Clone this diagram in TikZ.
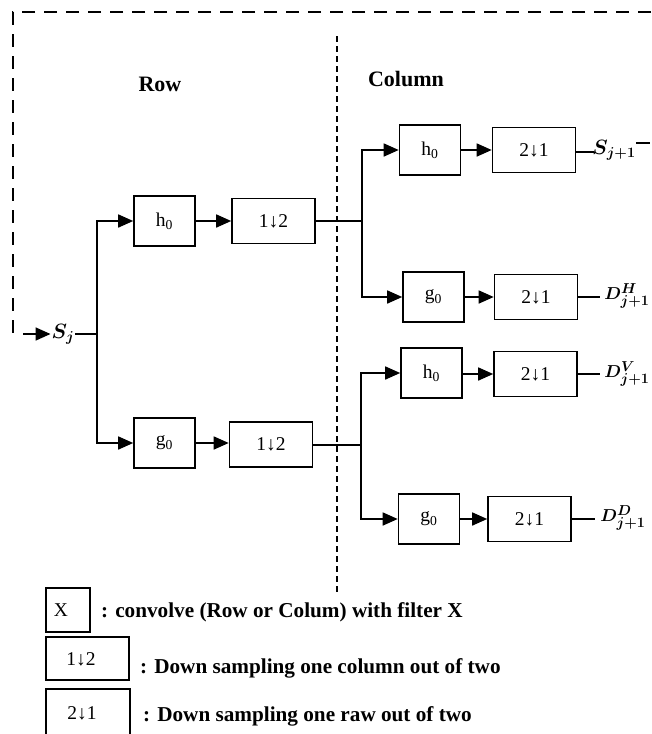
\documentclass[tikz,border=0pt]{standalone}
\usepackage{fontspec}
\setmainfont{Liberation Serif}
\usepackage{amsmath,bm}
\usetikzlibrary{arrows.meta}

\begin{document}
\begin{tikzpicture}[x=1pt,y=-1pt,
  wire/.style={line width=1.6pt},
  arr/.style={wire,-{Triangle[length=15pt,width=13pt]}},
  blk/.style={draw,line width=1.6pt,inner sep=0pt,font=\fontsize{19.5}{22}\selectfont},
  filt/.style={blk,minimum width=61pt,minimum height=50pt},
  dsmp/.style={blk,minimum width=83pt,minimum height=45pt},
  sig/.style={inner sep=1pt,font=\fontsize{19}{21}\selectfont},
  title/.style={font=\fontsize{22}{25}\selectfont\bfseries},
  legtext/.style={anchor=west,inner sep=0pt,font=\fontsize{21.2}{24}\selectfont\bfseries},
  fb/.style={line width=1.6pt,dash pattern=on 13pt off 9pt},
  sep/.style={line width=1.6pt,dash pattern=on 6pt off 4pt}]

\clip (0,0) rectangle (651,734);

% titles
\node[title] (trow) at (160,84) {Row};
\node[title] (tcol) at (406,79) {Column};

% row / column separator
\coordinate (sepT) at (337,36);
\coordinate (sepB) at (337,592);
\draw[sep] (sepT) -- (sepB);

% input
\node[sig,font=\fontsize{22}{24}\selectfont] (Sj) at (63,334) {$\bm{S_j}$};
\coordinate (fbT) at (651,12);
\coordinate (fbC) at (13,12);
\coordinate (fbB) at (13,333);
\coordinate (inA) at (23,334);
\draw[fb] (fbT) -- (fbC) -- (fbB);
\draw[arr] (inA) -- (Sj.west);
\coordinate (sp) at (97,334);
\draw[wire] (Sj.east) -- (sp);

% row stage
\node[filt] (rh) at (164.5,221) {h\textsubscript{0}};
\node[dsmp] (rd1) at (273.5,221) {1↓2};
\node[filt] (rg) at (164.5,443) {g\textsubscript{0}};
\node[dsmp] (rd2) at (271,444.5) {1↓2};
\draw[arr] (sp) |- (rh);
\draw[arr] (sp) |- (rg);
\draw[arr] (rh) -- (rd1);
\draw[arr] (rg.east |- 0,443) -- (rd2.west |- 0,443);

% column stage, upper branch
\coordinate (s1) at (362,221);
\draw[wire] (rd1.east) -- (s1);
\node[filt] (ch1) at (430,150) {h\textsubscript{0}};
\node[dsmp] (cd1) at (534,150) {2↓1};
\node[filt] (cg1) at (433.5,297) {g\textsubscript{0}};
\node[dsmp] (cd2) at (536,297) {2↓1};
\draw[arr] (s1) |- (ch1);
\draw[arr] (s1) |- (cg1);
\draw[arr] (ch1) -- (cd1);
\draw[arr] (cg1) -- (cd2);

% column stage, lower branch
\coordinate (s2) at (361,445);
\draw[wire] (rd2.east |- s2) -- (s2);
\node[filt] (ch2) at (431.5,373) {h\textsubscript{0}};
\node[dsmp] (cd3) at (535.5,374) {2↓1};
\node[filt] (cg2) at (429,519) {g\textsubscript{0}};
\node[dsmp] (cd4) at (529.5,519) {2↓1};
\draw[arr] (s2) |- (ch2);
\draw[arr] (s2) |- (cg2);
\draw[arr] (ch2.east |- cd3) -- (cd3);
\draw[arr] (cg2) -- (cd4);

% outputs
\node[sig,font=\fontsize{20}{22}\selectfont] (o1) at (614,150) {$\bm{S_{j+1}}$};
\node[sig] (o2) at (627,296) {$\bm{D^{H}_{j+1}}$};
\node[sig] (o3) at (627,374) {$\bm{D^{V}_{j+1}}$};
\node[sig] (o4) at (623,518) {$\bm{D^{D}_{j+1}}$};
\coordinate (o1a) at (594,152);
\coordinate (o2a) at (600,297);
\coordinate (o3a) at (600,374);
\coordinate (o4a) at (595,519);
\draw[wire] (cd1.east |- o1a) -- (o1a);
\draw[wire] (cd2.east |- o2a) -- (o2a);
\draw[wire] (cd3.east) -- (o3a);
\draw[wire] (cd4.east) -- (o4a);
\coordinate (o1b) at (636,143);
\coordinate (o1c) at (650,143);
\draw[wire] (o1b) -- (o1c);

% legend
\node[blk,minimum width=44pt,minimum height=44pt] (lx) at (68,610) {};
\node[font=\fontsize{19.5}{22}\selectfont,inner sep=0pt] (lxt) at (61,610) {X};
\node[legtext] (l1) at (101,612) {: convolve (Row or Colum) with filter X};
\node[blk,minimum width=83pt,minimum height=43pt] (ld1) at (87.5,658.5) {};
\node[font=\fontsize{19.5}{22}\selectfont,inner sep=0pt] (ld1t) at (81,659) {1↓2};
\node[legtext] (l2) at (140,668) {: Down sampling one column out of two};
\node[blk,minimum width=84pt,minimum height=46pt] (ld2) at (88,712) {};
\node[font=\fontsize{19.5}{22}\selectfont,inner sep=0pt] (ld2t) at (82,713) {2↓1};
\node[legtext] (l3) at (143,716) {: Down sampling one raw out of two};
\end{tikzpicture}
\end{document}
